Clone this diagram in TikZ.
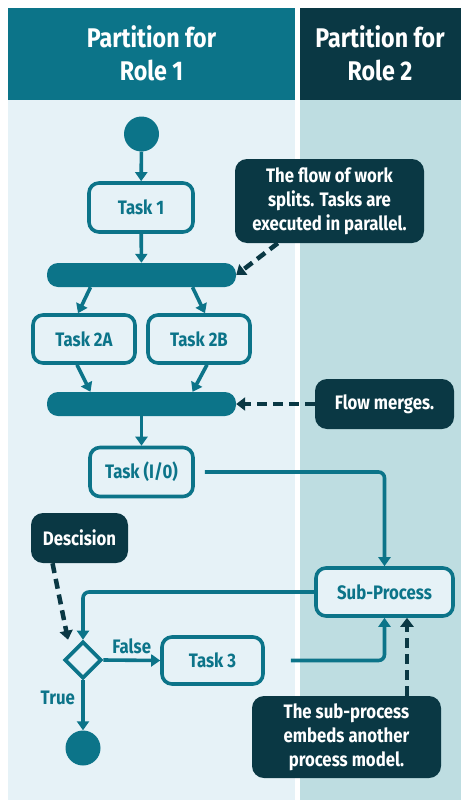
\documentclass[tikz,border=0pt]{standalone}
\usepackage{fontspec}
\setmainfont{Fira Sans}[FakeStretch=0.86]
\usetikzlibrary{arrows.meta,shapes.geometric}
\definecolor{teal1}{HTML}{0C7489}
\definecolor{dark1}{HTML}{0A3844}
\definecolor{lightbg}{HTML}{E6F2F7}
\definecolor{lane2}{HTML}{BEDDE1}
\begin{document}
\begin{tikzpicture}[x=1pt,y=-1pt,
  font=\bfseries\fontsize{19.5}{24}\selectfont,
  task/.style={draw=teal1, line width=3.6pt, rounded corners=10pt, fill=lightbg, text=teal1, minimum width=104pt, minimum height=49pt, inner sep=0pt},
  note/.style={fill=dark1, rounded corners=12pt, text=white, align=center, inner sep=0pt},
  bar/.style={fill=teal1, rounded corners=11pt, minimum width=189pt, minimum height=24pt, inner sep=0pt},
  dot/.style={circle, fill=teal1, minimum size=35pt, inner sep=0pt},
  flow/.style={draw=teal1, line width=3.6pt, -{Triangle[width=12pt,length=9pt]}},
  hint/.style={draw=dark1, line width=4.5pt, dash pattern=on 10pt off 6pt, -{Triangle[width=13pt,length=9pt]}},
  head/.style={text=white, align=center, font=\bfseries\fontsize{27}{33}\selectfont}
]
\useasboundingbox (0,0) rectangle (461,800);
% lanes
\fill[teal1] (8,8) rectangle (295,100);
\fill[dark1] (300,8) rectangle (461,100);
\fill[lightbg] (8,100) rectangle (295,800);
\fill[lane2] (300,100) rectangle (461,800);
\node[head] (h1) at (151.5,53) {Partition for\\Role 1};
\node[head] (h2) at (380,53) {Partition for\\Role 2};
% nodes
\node[dot] (s) at (141.5,134) {};
\node[task] (t1) at (141,207.5) {Task 1};
\node[bar] (bar1) at (141.5,275) {};
\node[note, minimum width=189pt, minimum height=84pt] (n1) at (329.5,201) {The flow of work\\splits. Tasks are\\executed in parallel.};
\node[task, minimum width=102pt, minimum height=48pt] (t2a) at (84,339) {Task 2A};
\node[task, minimum width=102pt, minimum height=48pt] (t2b) at (199,339) {Task 2B};
\node[bar] (bar2) at (141.5,404) {};
\node[note, minimum width=139pt, minimum height=50pt] (n2) at (384.5,404) {Flow merges.};
\node[task, minimum width=103pt] (tio) at (141.5,472) {Task (I/0)};
\node[task, minimum width=137pt, minimum height=48pt] (sp) at (384.5,592) {Sub-Process};
\node[diamond, draw=teal1, line width=3.6pt, fill=lightbg, minimum width=37pt, minimum height=37pt, inner sep=0pt] (dia) at (83,660) {};
\node[note, minimum width=97pt, minimum height=50pt] (n3) at (79.5,538) {Descision};
\node[task, minimum width=101pt, minimum height=47pt] (t3) at (212.5,660.5) {Task 3};
\node[dot] (e) at (83,748) {};
\node[note, minimum width=189pt, minimum height=82pt] (n4) at (346.5,737) {The sub-process\\embeds another\\process model.};
% connectors
\draw[flow] (s) -- (t1);
\draw[flow] (t1) -- (bar1);
\draw[flow] ([xshift=-51pt]bar1.south) -- ([xshift=-6pt]t2a.north);
\draw[flow] ([xshift=51pt]bar1.south) -- ([xshift=6pt]t2b.north);
\draw[flow] ([xshift=-7pt]t2a.south) -- ([xshift=-51pt]bar2.north);
\draw[flow] ([xshift=8pt]t2b.south) -- ([xshift=51pt]bar2.north);
\draw[flow] (bar2) -- (tio);
\draw[hint] ([xshift=43pt]n1.south west) -- (bar1.east);
\draw[hint] (n2.west) -- (bar2.east);
\draw[flow, rounded corners=6pt] ([xshift=10pt]tio.east) -| (sp.north);
\draw[flow, rounded corners=6pt] (sp.west) -| (dia.north);
\draw[hint] ([xshift=-27pt]n3.south) -- ([xshift=-15pt]dia.north);
\draw[flow] (dia.east) -- (t3.west) node[midway, above=1pt, text=teal1] {False};
\draw[flow, rounded corners=6pt] ([xshift=26pt]t3.east) -| (sp.south);
\draw[flow] (dia.south) -- (e) node[pos=0.35, left=3pt, text=teal1] {True};
\draw[hint] ([xshift=60.5pt]n4.north) -- ([xshift=22.5pt]sp.south);
\end{tikzpicture}
\end{document}
